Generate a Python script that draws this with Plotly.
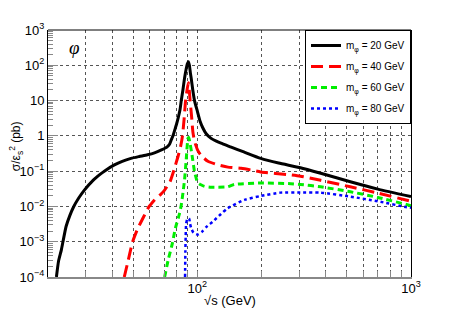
import plotly.graph_objects as go

# ---- data ----
x_m20 = [21.9, 22.4, 23.1, 23.5, 24.3, 25.3, 26.3, 27.8, 29.6, 32.5, 35.4, 36.7, 40.9, 44.5, 48.9, 53.5,
         58.4, 63.0, 67.9, 72.0, 74.1, 75.5, 76.9, 78.5, 80.0, 81.5, 83.0, 84.1, 85.6, 87.1, 88.7, 89.8,
         90.8, 91.8, 92.8, 93.6, 95.2, 97.0, 100.0, 103.0, 106.0, 110.0, 116.0, 122.0, 129.0, 144.0,
         165.0, 198.0, 240.0, 304.0, 378.0, 520.0, 700.0, 1000.0]
y_m20 = [1e-4, 2.8e-4, 5.9e-4, 1e-3, 2.7e-3, 5.5e-3, 9.5e-3, 0.017, 0.029, 0.055, 0.085, 0.1, 0.15, 0.19,
         0.23, 0.26, 0.29, 0.33, 0.40, 0.48, 0.58, 0.77, 1.0, 1.5, 2.2, 3.4, 5.6, 10.0, 20.0, 43.0, 80.0,
         110.0, 126.0, 100.0, 60.0, 43.0, 20.0, 10.0, 5.0, 2.6, 1.7, 1.15, 0.85, 0.72, 0.62, 0.48,
         0.35, 0.23, 0.17, 0.125, 0.087, 0.05, 0.031, 0.019]

x_m40 = [45.5, 47.5, 49.8, 52.5, 56.0, 59.5, 64.0, 67.4, 70.0, 72.0, 74.5, 76.9, 79.0, 81.2, 83.5, 85.2,
         86.7, 88.1, 89.5, 90.8, 91.8, 92.5, 94.0, 95.3, 97.0, 100.6, 104.0, 112.0, 125.0, 139.0, 160.0,
         178.0, 198.0, 274.0, 304.0, 378.0, 520.0, 700.0, 1000.0]
y_m40 = [1e-4, 3e-4, 1e-3, 2.3e-3, 5e-3, 0.01, 0.017, 0.022, 0.028, 0.036, 0.05, 0.087, 0.15, 0.26, 0.5,
         1.0, 3.0, 10.0, 20.0, 32.0, 18.0, 10.0, 3.5, 1.3, 0.7, 0.38, 0.28, 0.19, 0.15, 0.13, 0.12,
         0.108, 0.095, 0.078, 0.072, 0.055, 0.036, 0.024, 0.014]

x_m60 = [70.3, 73.0, 76.4, 78.9, 82.6, 84.1, 85.7, 87.1, 88.7, 90.4, 91.2, 92.5, 94.4, 97.0, 99.0, 100.6,
         104.0, 108.0, 116.0, 138.7, 149.0, 198.0, 274.0, 304.0, 378.0, 520.0, 700.0, 1000.0]
y_m60 = [1e-4, 3e-4, 9e-4, 2.4e-3, 6.4e-3, 0.011, 0.025, 0.056, 0.21, 0.85, 0.9, 0.6, 0.29, 0.097, 0.06,
         0.047, 0.041, 0.037, 0.035, 0.036, 0.042, 0.046, 0.044, 0.042, 0.036, 0.026, 0.018, 0.0105]

x_m80 = [87.6, 87.9, 88.2, 88.6, 89.5, 90.5, 91.5, 92.5, 93.6, 96.0, 100.6, 105.0, 110.0, 118.0, 129.0,
         138.7, 166.0, 198.0, 245.0, 304.0, 378.0, 520.0, 700.0, 955.0, 1000.0]
y_m80 = [1e-4, 5e-4, 1.5e-3, 3.2e-3, 4.2e-3, 4.5e-3, 4.6e-3, 3.2e-3, 2.4e-3, 1.8e-3, 1.6e-3, 1.9e-3,
         2.6e-3, 3.7e-3, 6.1e-3, 8.9e-3, 0.0153, 0.0198, 0.0246, 0.025, 0.0246, 0.019, 0.014, 0.0095, 0.0092]

series_names = ["m<sub>φ</sub> = 20 GeV", "m<sub>φ</sub> = 40 GeV",
                "m<sub>φ</sub> = 60 GeV", "m<sub>φ</sub> = 80 GeV"]

x_grid_vals = [30, 40, 50, 60, 70, 80, 90, 100, 200, 300, 400, 500, 600, 700, 800, 900, 1000]
x_grid_text = ["", "", "", "", "", "", "", "10<sup>2</sup>", "", "", "", "", "", "", "", "", "10<sup>3</sup>"]

y_tick_vals = [1e-4, 1e-3, 1e-2, 1e-1, 1, 10, 100, 1000]
y_tick_text = ["10<sup>−4</sup>", "10<sup>−3</sup>", "10<sup>−2</sup>", "10<sup>−1</sup>",
               "1", "10", "10<sup>2</sup>", "10<sup>3</sup>"]
y_minor_vals = [m * 10.0 ** e for e in range(-4, 3) for m in range(2, 10)]

# ---- figure ----
FONT = "Liberation Sans, Arial, sans-serif"
styles = [
    dict(color="black", width=3, dash="solid"),
    dict(color="#ff0000", width=3, dash="12px,6px"),
    dict(color="#00ee00", width=3, dash="6px,4px"),
    dict(color="#0000ff", width=2.5, dash="3px,3px"),
]
data = [(x_m20, y_m20), (x_m40, y_m40), (x_m60, y_m60), (x_m80, y_m80)]

fig = go.Figure()
for i, ((xs, ys), name, st) in enumerate(zip(data, series_names, styles)):
    fig.add_trace(go.Scatter(x=xs, y=ys, mode="lines", name=name, legendgroup=f"g{i}",
                             line=dict(**st, shape="spline", smoothing=0.5)))

# the page body has an 8px default margin, so the margins compensate for it
fig.update_layout(
    width=457, height=309,
    margin=dict(l=38, r=54, t=22, b=40),
    paper_bgcolor="white", plot_bgcolor="white",
    font=dict(family=FONT, size=13, color="black"),
    showlegend=True,
    legend=dict(x=1, xanchor="right", y=1.0, yanchor="top",
                bgcolor="white", bordercolor="black", borderwidth=1,
                font=dict(size=10, family=FONT), itemwidth=30, tracegroupgap=2),
)
fig.update_xaxes(
    type="log", range=[1.30103, 3.0],
    tickmode="array", tickvals=x_grid_vals, ticktext=x_grid_text,
    showgrid=True, gridcolor="#555555", griddash="dot", gridwidth=1,
    ticks="inside", ticklen=6, tickcolor="#888888",
    showline=True, linecolor="#888888", linewidth=2, mirror=False,
    zeroline=False, tickfont=dict(size=13), ticklabelstandoff=-2,
)
fig.update_yaxes(
    type="log", range=[-4, 3],
    tickmode="array", tickvals=y_tick_vals, ticktext=y_tick_text,
    showgrid=True, gridcolor="#555555", griddash="dot", gridwidth=1,
    ticks="inside", ticklen=10, tickcolor="#888888",
    minor=dict(tickmode="array", tickvals=y_minor_vals, ticks="inside",
               ticklen=5, tickcolor="#888888", showgrid=False),
    showline=True, linecolor="black", linewidth=1, mirror=True,
    zeroline=False, tickfont=dict(size=13),
)
# top frame line
fig.add_shape(type="line", xref="paper", yref="paper", x0=0, x1=1, y0=1, y1=1,
              line=dict(color="black", width=1))

fig.add_annotation(text="√s (GeV)", xref="paper", yref="paper", x=0.5, y=-0.097,
                   xanchor="center", yanchor="middle",
                   showarrow=False, font=dict(size=13, family=FONT))
fig.add_annotation(text="σ/ε<sub>s</sub><sup>2</sup> (pb)", xref="paper", yref="paper",
                   x=-0.088, y=0.53, textangle=-90, xanchor="center", yanchor="middle",
                   showarrow=False, font=dict(size=12, family=FONT))
fig.add_annotation(text="<i>φ</i>", xref="paper", yref="paper", x=0.074, y=0.931,
                   xanchor="center", yanchor="middle",
                   showarrow=False, font=dict(size=19, family="Liberation Serif, serif"))

fig.write_html("out.html")
